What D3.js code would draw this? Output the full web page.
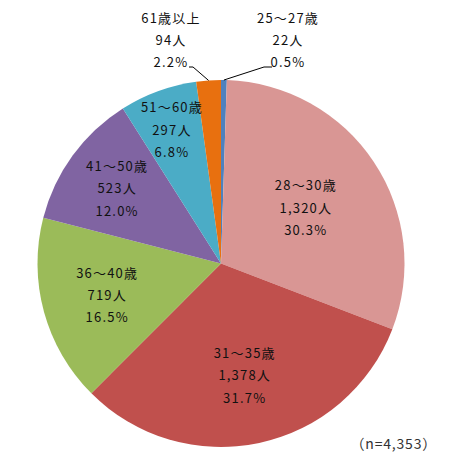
<!DOCTYPE html>
<html><head><meta charset="utf-8">
<script src="https://cdn.jsdelivr.net/npm/d3@7"></script>
<style>
html,body{margin:0;padding:0;background:#fff;}
svg text{font-family:"Noto Sans CJK JP","Noto Sans",sans-serif;}
</style></head>
<body><svg id="chart" width="459" height="463"></svg>
<script>
const categories = ["25～27歳","28～30歳","31～35歳","36～40歳","41～50歳","51～60歳","61歳以上"];
const counts = [22,1320,1378,719,523,297,94];
const percents = ["0.5%","30.3%","31.7%","16.5%","12.0%","6.8%","2.2%"];
const totalLabel = "（n=4,353）";

const colors = ["#4f81bd","#d99694","#c0504d","#9bbb59","#8064a2","#4bacc6","#e8700f"];
// label placement (fraction of radius) for inside labels; null = outside label
const labelRadius = [null,0.555,0.62,0.643,0.70,0.78,null];

const svg = d3.select("#chart");
const cx = 221, cy = 263.5, R = 183.5;
const g = svg.append("g").attr("transform",`translate(${cx},${cy})`);

const data = categories.map((c,i)=>({cat:c,count:counts[i],pct:percents[i],i}));
const pie = d3.pie().value(d=>d.count).sort(null).startAngle(0).endAngle(2*Math.PI);
const arcs = pie(data);
const arc = d3.arc().innerRadius(0).outerRadius(R);

g.selectAll("path.slice").data(arcs).join("path")
  .attr("class","slice")
  .attr("d",arc)
  .attr("fill",d=>colors[d.data.i]);

const fmt = d3.format(",");
const lines = d=>[d.data.cat, fmt(d.data.count)+"人", d.data.pct];
const lh = 22.3;
const fs = "13px", ls = "1.2px";

// inside labels
arcs.filter(d=>labelRadius[d.data.i]!==null).forEach(d=>{
  const a = (d.startAngle+d.endAngle)/2;
  const r = R*labelRadius[d.data.i];
  const x = r*Math.sin(a), y = -r*Math.cos(a);
  const t = g.append("text").attr("text-anchor","middle").attr("fill","#111")
    .style("font-size",fs).style("letter-spacing",ls);
  lines(d).forEach((s,k)=>{
    t.append("tspan").attr("x",x).attr("y",y+(k-1)*lh).attr("dominant-baseline","central").text(s);
  });
});

// outside labels with leader lines
const outside = [
  {i:6, tx:-50, side:-1},
  {i:0, tx:67, side:1}
];
outside.forEach(o=>{
  const d = arcs[o.i];
  const a = (d.startAngle+d.endAngle)/2;
  const px = R*Math.sin(a), py = -R*Math.cos(a);
  const ly = 67 - cy;
  const textTop = 17 - cy;
  const t = g.append("text").attr("text-anchor","middle").attr("fill","#111")
    .style("font-size",fs).style("letter-spacing",ls);
  lines(d).forEach((s,k)=>{
    t.append("tspan").attr("x",o.tx).attr("y",textTop+k*lh).attr("dominant-baseline","central").text(s);
  });
  const endX = o.side<0 ? o.tx+18 : o.tx-16;
  const elbowX = o.side<0 ? endX+4 : endX-8;
  g.append("path")
    .attr("d",`M${px},${py}L${elbowX},${ly}L${endX},${ly}`)
    .attr("fill","none").attr("stroke","#000").attr("stroke-width",1);
});

svg.append("text").attr("x",437).attr("y",443).attr("text-anchor","end")
  .attr("dominant-baseline","central").attr("fill","#333")
  .style("font-size","14px").style("letter-spacing","0.8px").text(totalLabel);
</script>
</body></html>
